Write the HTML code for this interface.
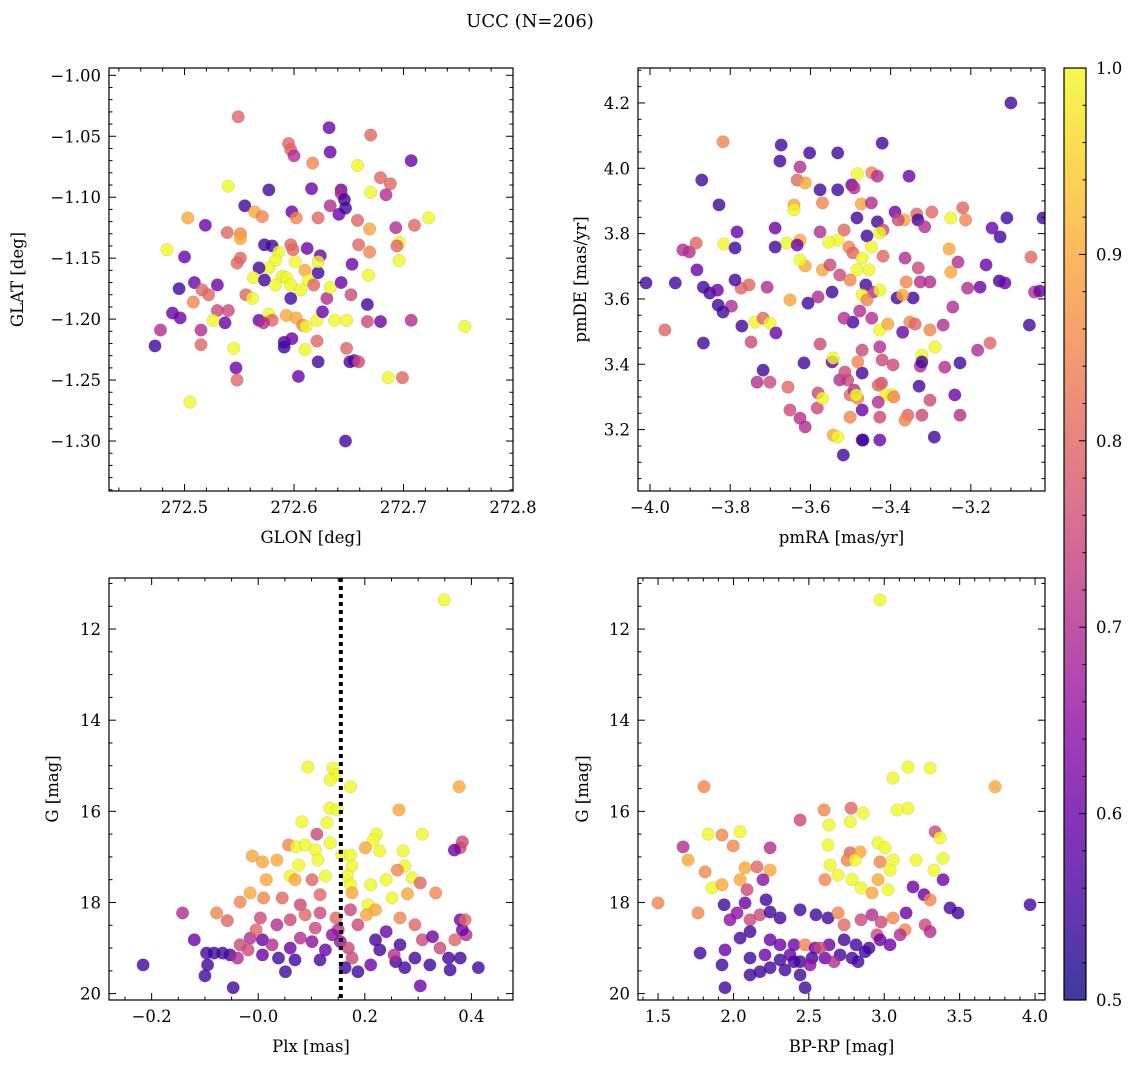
<!DOCTYPE html>
<html><head><meta charset="utf-8"><style>
html,body{margin:0;padding:0;background:#fff;}
svg{display:block;font-family:"DejaVu Serif","Liberation Serif",serif;}
</style></head><body>
<svg id="fig" width="1136" height="1067" viewBox="0 0 1136 1067" xmlns="http://www.w3.org/2000/svg">
<text x="530" y="27" font-size="18" text-anchor="middle">UCC (N=206)</text>
<defs><linearGradient id="cbg" x1="0" y1="1" x2="0" y2="0">
<stop offset="0" stop-color="#0d0887"/><stop offset="0.1" stop-color="#41049d"/><stop offset="0.2" stop-color="#6a00a8"/><stop offset="0.3" stop-color="#8f0da4"/><stop offset="0.4" stop-color="#b12a90"/><stop offset="0.5" stop-color="#cc4778"/><stop offset="0.6" stop-color="#e16462"/><stop offset="0.7" stop-color="#f2844b"/><stop offset="0.8" stop-color="#fca636"/><stop offset="0.9" stop-color="#fcce25"/><stop offset="1" stop-color="#f0f921"/>
</linearGradient></defs>
</svg>
<script>
// Panel 1: GLON vs GLAT
const p1x=[272.549,272.632,272.595,272.597,272.600,272.633,272.670,272.707,272.658,272.617,272.679,272.540,272.577,272.616,272.643,272.643,272.646,272.670,272.688,272.684,272.503,272.519,272.555,272.539,272.551,272.564,272.571,272.598,272.602,272.622,272.633,272.641,272.647,272.658,272.723,272.710,272.696,272.693,272.669,272.484,272.500,272.551,272.573,272.580,272.597,272.599,272.612,272.624,272.659,272.669,272.694,272.696,272.668,272.653,272.622,272.601,272.586,272.583,272.577,272.568,272.551,272.548,272.589,272.593,272.610,272.613,272.618,272.622,272.509,272.516,272.495,272.522,272.530,272.563,272.573,272.583,272.597,272.606,272.630,272.652,272.667,272.556,272.562,272.597,272.633,272.643,272.489,272.496,272.508,272.515,272.530,272.540,272.537,272.526,272.568,272.577,272.580,272.593,272.602,272.608,272.611,272.621,272.626,272.637,272.648,272.667,272.679,272.707,272.756,272.478,272.473,272.515,272.545,272.547,272.548,272.591,272.591,272.598,272.610,272.622,272.604,272.648,272.655,272.651,272.659,272.686,272.699,272.505,272.647,272.621,272.572];
const p1y=[-1.034,-1.043,-1.056,-1.061,-1.066,-1.063,-1.049,-1.070,-1.074,-1.072,-1.084,-1.091,-1.094,-1.093,-1.094,-1.097,-1.102,-1.096,-1.089,-1.098,-1.117,-1.123,-1.107,-1.129,-1.130,-1.112,-1.116,-1.112,-1.117,-1.117,-1.107,-1.114,-1.109,-1.119,-1.117,-1.123,-1.137,-1.125,-1.126,-1.143,-1.149,-1.134,-1.139,-1.140,-1.139,-1.143,-1.142,-1.148,-1.139,-1.145,-1.140,-1.152,-1.164,-1.155,-1.162,-1.153,-1.145,-1.152,-1.158,-1.158,-1.150,-1.154,-1.165,-1.166,-1.160,-1.168,-1.172,-1.153,-1.170,-1.176,-1.175,-1.180,-1.172,-1.166,-1.168,-1.172,-1.172,-1.176,-1.183,-1.180,-1.188,-1.180,-1.183,-1.183,-1.174,-1.170,-1.195,-1.199,-1.186,-1.209,-1.193,-1.193,-1.203,-1.201,-1.201,-1.196,-1.201,-1.197,-1.199,-1.205,-1.206,-1.201,-1.194,-1.201,-1.201,-1.202,-1.202,-1.201,-1.206,-1.209,-1.222,-1.221,-1.224,-1.240,-1.250,-1.219,-1.223,-1.216,-1.225,-1.235,-1.247,-1.224,-1.234,-1.235,-1.235,-1.248,-1.248,-1.268,-1.300,-1.218,-1.203];
const p1c=[0.8,0.6,0.8,0.8,0.7,0.6,0.8,0.6,1.0,0.85,0.8,1.0,0.55,0.6,0.6,0.7,0.55,1.0,0.8,0.7,0.9,0.6,0.55,0.8,0.85,0.9,0.85,0.6,0.85,0.8,0.7,0.6,0.55,0.8,1.0,0.8,1.0,0.7,0.9,1.0,0.6,0.9,0.55,0.55,0.8,0.8,0.6,0.6,0.8,0.85,0.8,1.0,1.0,0.6,0.55,1.0,1.0,1.0,1.0,0.55,0.8,0.8,1.0,1.0,0.9,1.0,0.8,1.0,0.6,0.8,0.55,0.8,0.6,1.0,0.55,1.0,1.0,1.0,0.7,0.75,0.55,0.8,1.0,0.55,1.0,0.6,0.6,0.6,0.85,0.7,0.75,0.75,0.6,1.0,0.6,1.0,0.8,0.9,0.9,0.85,1.0,1.0,0.6,1.0,1.0,0.75,0.6,0.7,1.0,0.7,0.55,0.8,1.0,0.6,0.8,0.55,0.55,0.6,1.0,0.55,0.6,0.8,0.6,0.55,0.75,1.0,0.8,1.0,0.55,0.8,0.7];
// Panel 2: pmRA vs pmDE
const p2x=[-3.100,-3.818,-3.421,-3.673,-3.676,-3.602,-3.532,-3.626,-3.447,-3.483,-3.497,-3.433,-3.491,-3.576,-3.532,-3.633,-3.613,-3.354,-3.871,-3.828,-3.641,-3.641,-3.570,-3.473,-3.448,-3.389,-3.335,-3.332,-3.297,-3.366,-3.381,-3.250,-3.220,-3.213,-3.147,-3.110,-3.020,-3.484,-3.433,-3.315,-3.419,-3.427,-3.459,-3.516,-3.532,-3.554,-3.576,-3.626,-3.659,-3.688,-3.783,-3.816,-3.902,-3.788,-3.688,-3.633,-3.504,-3.494,-3.448,-3.471,-3.419,-3.364,-3.254,-3.127,-3.232,-3.162,-3.250,-3.050,-3.302,-3.361,-3.454,-3.484,-3.570,-3.613,-3.626,-3.551,-3.527,-3.501,-3.462,-3.444,-3.471,-3.546,-3.581,-3.606,-3.651,-3.708,-3.753,-3.773,-3.788,-3.867,-3.851,-3.832,-3.937,-3.867,-3.797,-3.738,-3.748,-3.718,-3.701,-3.686,-3.718,-3.733,-3.701,-3.656,-3.616,-3.651,-3.626,-3.613,-3.583,-3.501,-3.501,-3.507,-3.527,-3.491,-3.471,-3.482,-3.471,-3.546,-3.514,-3.576,-3.581,-3.570,-3.543,-3.532,-3.518,-3.471,-3.482,-3.486,-3.543,-3.494,-3.447,-3.427,-3.407,-3.477,-3.516,-3.427,-3.459,-3.412,-3.396,-3.423,-3.469,-3.427,-3.431,-3.471,-3.431,-3.352,-3.339,-3.370,-3.421,-3.427,-3.357,-3.392,-3.329,-3.394,-3.322,-3.326,-3.289,-3.269,-3.302,-3.322,-3.302,-3.322,-3.364,-3.427,-3.291,-3.227,-3.240,-3.265,-3.227,-3.183,-3.177,-3.208,-3.129,-3.115,-3.041,-3.028,-3.054,-3.152,-3.245,-3.331,-3.326,-3.344,-3.384,-3.370,-4.010,-3.818,-3.918,-3.883,-3.830,-3.963,-3.885,-3.771];
const p2y=[4.200,4.081,4.077,4.071,4.022,4.047,4.047,4.004,3.986,3.983,3.949,3.976,3.940,3.934,3.934,3.964,3.955,3.976,3.964,3.888,3.888,3.873,3.894,3.891,3.894,3.866,3.860,3.842,3.866,3.842,3.842,3.848,3.879,3.842,3.817,3.848,3.848,3.848,3.836,3.821,3.811,3.802,3.793,3.811,3.780,3.774,3.805,3.780,3.771,3.817,3.805,3.768,3.744,3.756,3.759,3.765,3.759,3.741,3.759,3.725,3.731,3.725,3.753,3.790,3.713,3.704,3.682,3.728,3.652,3.652,3.689,3.689,3.689,3.701,3.719,3.704,3.673,3.658,3.643,3.621,3.612,3.621,3.606,3.587,3.597,3.636,3.643,3.633,3.658,3.636,3.618,3.627,3.649,3.465,3.578,3.529,3.468,3.541,3.526,3.496,3.382,3.345,3.345,3.330,3.404,3.260,3.235,3.208,3.266,3.238,3.306,3.352,3.352,3.321,3.373,3.407,3.443,3.407,3.376,3.462,3.312,3.296,3.183,3.177,3.122,3.168,3.296,3.306,3.419,3.529,3.541,3.505,3.523,3.563,3.541,3.627,3.597,3.306,3.306,3.342,3.168,3.168,3.284,3.260,3.336,3.529,3.523,3.498,3.413,3.453,3.244,3.300,3.333,3.398,3.428,3.394,3.453,3.520,3.505,3.407,3.290,3.244,3.229,3.238,3.177,3.244,3.306,3.391,3.404,3.443,3.636,3.633,3.655,3.649,3.621,3.624,3.520,3.465,3.575,3.695,3.652,3.603,3.603,3.612,3.649,3.560,3.750,3.689,3.581,3.505,3.771,3.517];
const p2c=[0.55,0.85,0.55,0.55,0.55,0.55,0.55,0.7,0.85,1.0,0.6,0.7,0.7,0.55,0.55,0.8,0.9,0.6,0.55,0.55,0.9,1.0,0.85,0.9,0.7,0.6,0.8,0.55,0.8,0.9,0.75,1.0,0.8,0.85,0.6,0.55,0.55,0.55,0.55,0.7,0.75,1.0,0.55,0.8,1.0,1.0,0.7,0.9,1.0,0.6,0.6,1.0,0.7,0.55,0.55,0.6,0.85,0.8,1.0,1.0,0.8,0.7,0.9,0.55,0.7,0.6,0.9,0.8,0.7,0.85,1.0,1.0,0.9,0.9,1.0,0.75,0.75,0.85,0.55,0.7,1.0,0.55,0.7,0.55,0.9,0.7,0.8,0.8,0.55,0.55,0.55,0.6,0.55,0.55,0.7,1.0,0.75,0.8,1.0,0.6,0.55,0.7,0.75,0.8,0.55,0.75,0.7,0.7,0.75,0.85,0.8,0.75,0.7,0.7,0.55,0.85,0.75,0.6,0.75,0.75,0.75,1.0,0.9,1.0,0.55,0.6,0.85,1.0,1.0,0.55,0.7,1.0,0.9,0.7,0.7,1.0,0.85,1.0,1.0,0.75,0.55,0.6,0.7,0.6,0.8,0.85,0.8,0.6,0.75,0.7,0.8,0.85,0.55,0.75,1.0,0.7,1.0,0.7,0.85,0.55,0.75,0.75,0.85,0.75,0.55,0.7,0.6,0.7,0.55,0.7,0.6,0.7,0.55,0.6,0.7,0.6,0.55,0.8,0.7,0.75,0.7,0.55,0.55,0.9,0.55,0.55,0.7,0.6,0.55,0.8,0.8,0.55];
// Panel 3: Plx vs G
const p3x=[0.349,0.093,0.140,0.146,0.135,0.173,0.377,0.134,0.148,0.082,0.129,0.110,0.264,0.308,0.222,0.216,0.228,0.201,0.272,0.057,0.071,0.088,0.107,0.135,0.157,0.173,0.176,0.112,0.076,0.379,0.383,0.368,-0.011,0.008,0.035,0.060,0.069,0.015,-0.015,0.010,0.045,0.101,0.126,0.167,0.173,0.176,0.211,0.240,0.275,0.261,0.289,0.304,0.280,0.251,0.333,0.206,0.220,0.203,0.116,0.079,-0.034,-0.078,-0.142,-0.058,0.004,0.035,0.060,0.088,0.116,0.146,0.173,0.187,0.150,0.240,0.266,0.294,0.308,0.266,0.327,0.341,0.369,0.390,0.379,0.383,0.388,-0.120,-0.083,-0.097,-0.067,-0.053,-0.039,-0.095,-0.100,-0.047,-0.216,-0.015,-0.034,0.008,0.026,-0.019,0.008,0.038,0.060,0.079,0.101,0.069,0.051,0.116,0.139,0.154,0.126,0.169,0.176,0.163,0.187,0.220,0.228,0.211,0.258,0.275,0.294,0.322,0.304,0.357,0.379,0.413,0.360,0.255,-0.004,0.107];
const p3y=[11.36,15.03,15.05,15.20,15.31,15.46,15.46,15.93,15.97,16.23,16.25,16.50,15.97,16.50,16.50,16.63,16.87,16.80,16.87,16.74,16.78,16.74,16.85,16.69,16.96,16.96,17.20,17.07,17.18,16.80,16.67,16.85,16.98,17.11,17.07,17.42,17.50,17.50,17.79,17.90,17.90,17.50,17.42,17.42,17.61,17.79,17.61,17.50,17.20,17.29,17.46,17.57,17.81,17.90,17.79,18.05,18.16,18.27,17.83,18.05,17.99,18.23,18.23,18.40,18.34,18.49,18.38,18.27,18.23,18.34,18.16,18.49,18.60,18.64,18.34,18.49,18.82,18.93,18.75,19.00,18.82,18.71,18.38,18.60,18.38,18.82,19.11,19.11,19.11,19.15,19.22,19.37,19.61,19.87,19.37,18.78,18.93,18.82,18.93,19.04,19.15,19.22,19.00,18.78,18.86,19.26,19.52,19.26,18.71,18.86,19.04,19.00,19.22,19.43,19.52,18.82,19.04,19.37,19.30,19.43,19.22,19.37,19.83,19.22,19.22,19.43,19.48,19.15,18.60,18.56];
const p3c=[1.0,1.0,1.0,1.0,1.0,1.0,0.9,1.0,1.0,1.0,1.0,0.75,0.9,1.0,1.0,1.0,1.0,0.9,1.0,0.85,1.0,1.0,1.0,1.0,1.0,1.0,1.0,1.0,1.0,0.75,0.75,0.6,0.9,0.9,0.9,1.0,0.9,0.9,0.9,0.85,0.8,0.8,1.0,1.0,1.0,0.9,1.0,1.0,1.0,0.85,1.0,0.8,0.9,1.0,0.85,1.0,0.9,0.9,0.8,0.75,0.85,0.85,0.7,0.8,0.75,0.7,0.75,0.8,0.75,0.8,0.75,0.75,0.7,0.6,0.85,0.8,0.75,0.55,0.6,0.75,0.8,0.7,0.6,0.6,0.8,0.6,0.55,0.55,0.55,0.55,0.7,0.55,0.55,0.55,0.55,0.7,0.75,0.6,0.7,0.75,0.6,0.55,0.6,0.7,0.65,0.55,0.55,0.55,0.65,0.65,0.6,0.75,0.75,0.55,0.55,0.55,0.55,0.6,0.55,0.55,0.55,0.55,0.6,0.55,0.55,0.55,0.55,0.7,0.8,0.75];
// Panel 4: BP-RP vs G
const p4x=[2.972,1.805,3.058,3.158,3.304,3.735,3.085,3.158,2.601,2.780,2.634,2.442,2.774,2.860,3.337,3.370,1.832,2.044,1.924,1.666,1.998,2.243,2.959,2.627,2.774,2.840,2.754,2.807,2.641,2.972,3.005,3.058,3.038,3.211,3.330,3.390,1.699,1.812,2.156,2.243,2.077,1.858,1.924,2.044,2.090,2.196,2.607,2.694,2.787,2.846,2.959,2.919,3.025,3.191,3.264,3.304,3.390,1.765,1.500,1.938,2.077,2.216,1.977,2.024,2.110,2.176,2.243,2.309,2.442,2.547,2.627,2.694,2.734,2.846,2.919,2.979,3.058,3.138,3.271,3.436,3.489,3.967,3.145,2.952,2.044,2.110,2.243,2.309,2.402,2.475,2.541,2.634,2.734,2.813,2.899,2.972,3.038,3.105,3.304,1.944,1.779,2.110,2.209,2.309,2.375,2.442,2.521,2.607,2.707,2.787,2.873,2.508,2.243,2.342,2.442,2.176,2.110,1.924,1.944,2.475,2.402,2.667,2.574,2.826];
const p4y=[11.36,15.46,15.27,15.03,15.05,15.46,15.97,15.93,15.97,15.93,16.30,16.19,16.23,16.04,16.45,16.58,16.50,16.45,16.52,16.78,16.76,16.80,16.69,16.74,16.91,16.89,17.07,17.07,17.18,17.11,16.80,17.07,17.29,17.07,17.29,17.03,17.07,17.33,17.22,17.29,17.24,17.68,17.61,17.50,17.72,17.50,17.50,17.40,17.50,17.68,17.50,17.79,17.72,17.66,17.83,17.94,17.50,18.23,18.01,18.05,18.01,17.94,18.38,18.23,18.38,18.27,18.21,18.34,18.16,18.27,18.34,18.23,18.49,18.38,18.27,18.43,18.34,18.60,18.49,18.12,18.23,18.05,18.23,18.71,18.78,18.64,18.82,18.93,18.93,18.93,19.00,18.93,18.82,18.93,19.00,18.82,18.93,18.71,18.64,19.04,19.11,19.22,19.15,19.26,19.15,19.30,19.22,19.22,19.15,19.22,19.08,19.37,19.43,19.48,19.59,19.52,19.59,19.37,19.87,19.87,19.30,19.30,19.00,19.30];
const p4c=[1.0,0.85,1.0,1.0,1.0,0.9,1.0,1.0,0.85,0.8,1.0,0.75,1.0,1.0,0.75,1.0,1.0,1.0,0.85,0.7,0.85,0.7,1.0,1.0,0.8,0.9,0.85,1.0,1.0,0.85,1.0,1.0,1.0,1.0,1.0,1.0,0.9,0.85,0.8,0.9,0.9,1.0,0.9,0.9,0.75,0.65,0.85,1.0,1.0,1.0,0.9,0.9,1.0,0.6,0.6,0.85,0.6,0.85,0.85,0.55,0.6,0.55,0.65,0.65,0.75,0.75,0.55,0.55,0.55,0.55,0.55,0.85,0.8,0.75,0.7,0.75,0.85,0.85,0.75,0.55,0.55,0.55,0.6,0.75,0.55,0.55,0.6,0.6,0.6,0.85,0.6,0.6,0.55,0.55,0.55,0.6,0.6,0.7,0.7,0.6,0.55,0.55,0.6,0.55,0.6,0.55,0.55,0.6,0.55,0.55,0.55,0.65,0.55,0.55,0.55,0.55,0.55,0.55,0.55,0.55,0.55,0.7,0.75,0.55];
const plxLine=[0.155];
const cbTicks=[0.5,0.6,0.7,0.8,0.9,1.0];

const NS='http://www.w3.org/2000/svg';
const svg=document.getElementById('fig');
const stops=['#0d0887','#41049d','#6a00a8','#8f0da4','#b12a90','#cc4778','#e16462','#f2844b','#fca636','#fcce25','#f0f921'];
function hx(h){return [parseInt(h.slice(1,3),16),parseInt(h.slice(3,5),16),parseInt(h.slice(5,7),16)];}
function plasma(v){let t=(v-0.5)/0.5;t=Math.max(0,Math.min(1,t))*10;const i=Math.min(9,Math.floor(t)),f=t-i;const a=hx(stops[i]),b=hx(stops[i+1]);return 'rgb('+a.map((x,k)=>Math.round(x+(b[k]-x)*f)).join(',')+')';}
function mk(tag,attrs,parent){const e=document.createElementNS(NS,tag);for(const k in attrs)e.setAttribute(k,attrs[k]);(parent||svg).appendChild(e);return e;}
function fmt(v,d){let s=v.toFixed(d);return s.replace('-','\u2212');}

function panel(cfg){
  const g=mk('g',{});
  
  
  const {L,T,R,B}=cfg;
  const sx=v=>L+(v-cfg.x0)/(cfg.x1-cfg.x0)*(R-L);
  const sy=v=>T+(v-cfg.y0)/(cfg.y1-cfg.y0)*(B-T);
  const cl='clip'+cfg.name;
  const cp=mk('clipPath',{id:cl},g);mk('rect',{x:L,y:T,width:R-L,height:B-T},cp);
  const pts=mk('g',{'clip-path':'url(#'+cl+')'},g);
  
  
  for(let i=0;i<Math.min(cfg.xs.length,cfg.ys.length,cfg.cs.length);i++){
    const c=mk('circle',{cx:sx(cfg.xs[i]),cy:sy(cfg.ys[i]),r:6.3,fill:plasma(cfg.cs[i]),'fill-opacity':0.8,stroke:'#555','stroke-opacity':0.25,'stroke-width':0.5},pts);
    
    
  }
  if(cfg.vline){cfg.vline.forEach(v=>{const l=mk('line',{x1:sx(v),x2:sx(v),y1:T,y2:B,stroke:'#000','stroke-width':4,'stroke-dasharray':'4,4'},g);
    
    });}
  mk('rect',{x:L,y:T,width:R-L,height:B-T,fill:'none',stroke:'#000','stroke-width':1.2},g);
  const tk=mk('g',{stroke:'#000','stroke-width':1},g);
  const lo=Math.min(cfg.x0,cfg.x1),hi=Math.max(cfg.x0,cfg.x1);
  for(let v=Math.ceil(lo/cfg.xmin-1e-6)*cfg.xmin;v<=hi+1e-9;v+=cfg.xmin){
    const maj=Math.abs(v/cfg.xmaj-Math.round(v/cfg.xmaj))<1e-4;const len=maj?7:3.5;const x=sx(v);
    mk('line',{x1:x,x2:x,y1:B,y2:B-len},tk);mk('line',{x1:x,x2:x,y1:T,y2:T+len},tk);
    if(maj){const t=mk('text',{x:x,y:B+22,'font-size':16.5,'text-anchor':'middle',stroke:'none'},g);t.textContent=fmt(v,cfg.xd);
      }
  }
  const ylo=Math.min(cfg.y0,cfg.y1),yhi=Math.max(cfg.y0,cfg.y1);
  for(let v=Math.ceil(ylo/cfg.ymin-1e-6)*cfg.ymin;v<=yhi+1e-9;v+=cfg.ymin){
    const maj=Math.abs(v/cfg.ymaj-Math.round(v/cfg.ymaj))<1e-4;const len=maj?7:3.5;const y=sy(v);
    mk('line',{x1:L,x2:L+len,y1:y,y2:y},tk);mk('line',{x1:R,x2:R-len,y1:y,y2:y},tk);
    if(maj){const t=mk('text',{x:L-8,y:y+6,'font-size':16.5,'text-anchor':'end',stroke:'none'},g);t.textContent=fmt(v,cfg.yd);
      }
  }
  const xt=mk('text',{x:(L+R)/2,y:B+52,'font-size':16.5,'text-anchor':'middle'},g);xt.textContent=cfg.xl;
  
  const yt=mk('text',{x:0,y:0,'font-size':16.5,'text-anchor':'middle',transform:'translate('+cfg.ylx+','+((T+B)/2)+') rotate(-90)'},g);yt.textContent=cfg.yl;
  
}
panel({name:'glon-glat-panel',L:109,T:68,R:513,B:491,x0:272.431,x1:272.8,y0:-0.994,y1:-1.341,xmaj:0.1,xmin:0.02,ymaj:0.05,ymin:0.01,xd:1,yd:2,xs:p1x,ys:p1y,cs:p1c,xl:'GLON [deg]',yl:'GLAT [deg]',ylx:23});
panel({name:'proper-motion-panel',L:638,T:68,R:1045,B:491,x0:-4.030,x1:-3.015,y0:4.307,y1:3.012,xmaj:0.2,xmin:0.05,ymaj:0.2,ymin:0.05,xd:1,yd:1,xs:p2x,ys:p2y,cs:p2c,xl:'pmRA [mas/yr]',yl:'pmDE [mas/yr]',ylx:586});
panel({name:'plx-g-panel',L:109,T:578,R:513,B:1000,x0:-0.280,x1:0.478,y0:10.88,y1:20.14,xmaj:0.2,xmin:0.05,ymaj:2,ymin:0.5,xd:1,yd:0,xs:p3x,ys:p3y,cs:p3c,xl:'Plx [mas]',yl:'G [mag]',ylx:58,vline:plxLine});
panel({name:'cmd-panel',L:638,T:578,R:1045,B:1000,x0:1.367,x1:4.066,y0:10.88,y1:20.14,xmaj:0.5,xmin:0.1,ymaj:2,ymin:0.5,xd:1,yd:0,xs:p4x,ys:p4y,cs:p4c,xl:'BP-RP [mag]',yl:'G [mag]',ylx:588});
const cb=mk('g',{});


mk('rect',{x:1064,y:68,width:22,height:932,fill:'url(#cbg)','fill-opacity':0.8},cb);
mk('rect',{x:1064,y:68,width:22,height:932,fill:'none',stroke:'#000','stroke-width':1.2},cb);
const cy=v=>1000-(v-0.5)/0.5*932;
for(let v=0.5;v<=1.0001;v+=0.02){const maj=Math.abs(v*10-Math.round(v*10))<1e-4;mk('line',{x1:1086,x2:1086-(maj?7:3.5),y1:cy(v),y2:cy(v),stroke:'#000'},cb);}
cbTicks.forEach(v=>{const t=mk('text',{x:1096,y:cy(v)+6,'font-size':16.5},cb);t.textContent=v.toFixed(1);
  });
</script>
</body></html>
